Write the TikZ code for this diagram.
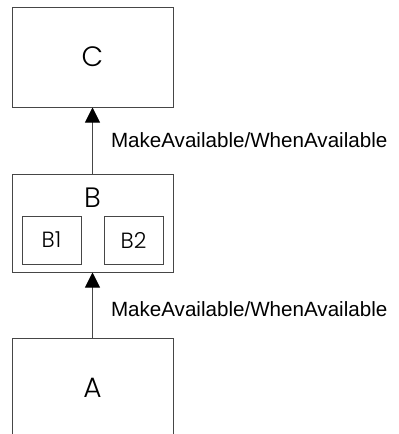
\documentclass[tikz,border=0pt]{standalone}
\usepackage{fontspec}
\setmainfont{Liberation Sans}
\newfontfamily\boxfont{Poppins}[UprightFont=* Light]
\usetikzlibrary{positioning,arrows.meta}
\definecolor{lineGray}{RGB}{70,70,70}

\tikzset{
  bigbox/.style={draw=lineGray, line width=0.5pt, minimum width=80.5pt, inner sep=0pt},
  subbox/.style={draw=lineGray, line width=0.5pt, minimum width=29.5pt, minimum height=24pt, inner sep=0pt, font=\boxfont\fontsize{11}{12}\selectfont},
  uses/.style={draw=lineGray, line width=0.5pt, -{Triangle[length=7.5pt,width=7.5pt,color=black]}},
  calllabel/.style={font=\fontsize{10.3}{12}\selectfont, right=9pt, inner sep=0pt}
}

\begin{document}
\begin{tikzpicture}
  % frame of the page, A runs off the bottom
  \useasboundingbox (0,0) rectangle (199pt,-217pt);
  \clip (0,0) rectangle (199pt,-217pt);

  % the three layers
  \node[bigbox, minimum height=50pt, font=\boxfont\fontsize{14}{16}\selectfont] (C) at (46.25pt,-28.5pt) {C};
  \node[bigbox, minimum height=49pt, below=33pt of C] (B) {};
  \node[bigbox, minimum height=52pt, below=32.5pt of B] (A) {};
  \node[font=\boxfont\fontsize{14}{16}\selectfont] (Alabel) at ([yshift=-25pt]A.north) {A};

  % inside B
  \node[font=\boxfont\fontsize{14}{16}\selectfont] (Blabel) at ([yshift=12.5pt]B.center) {B};
  \node[subbox] (B1) at ([xshift=-20.5pt,yshift=-8.5pt]B.center) {B1};
  \node[subbox] (B2) at ([xshift=20.5pt,yshift=-8.5pt]B.center) {B2};

  % calls between layers
  \draw[uses] (B.north) -- node[calllabel] {MakeAvailable/WhenAvailable} (C.south);
  \draw[uses] (A.north) -- node[calllabel, yshift=-2.25pt] {MakeAvailable/WhenAvailable} (B.south);
\end{tikzpicture}
\end{document}
